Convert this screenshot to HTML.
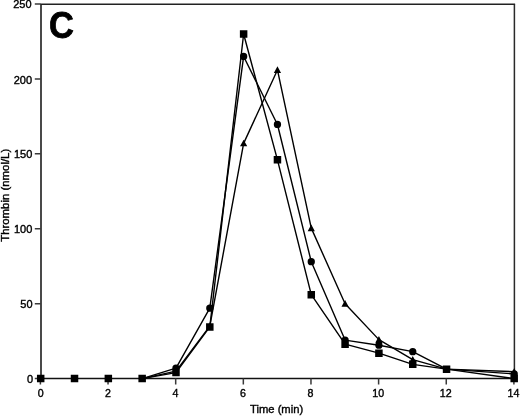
<!DOCTYPE html>
<html><head><meta charset="utf-8"><title>Thrombin generation chart</title><style>
html,body{margin:0;padding:0;background:#fff;width:520px;height:416px;overflow:hidden}
svg{display:block;filter:grayscale(1)}
.tx{fill:#000;stroke:#000;stroke-width:0.38;font-family:"Liberation Sans",sans-serif;font-size:11.0px}
.a{fill:#000;stroke:#000;stroke-width:0.38;font-family:"Liberation Sans",sans-serif;font-size:11.4px}
.c{fill:#000;stroke:#000;stroke-width:0.8;font-family:"Liberation Sans",sans-serif;font-size:37px;font-weight:bold}
</style></head><body>
<svg width="520" height="416" viewBox="0 0 520 416">
<path d="M41 4.3V378.60" stroke="#2a2a2a" stroke-width="1.7" fill="none"/>
<path d="M514.4 4.3V378.60" stroke="#2a2a2a" stroke-width="1.5" fill="none"/>
<path d="M40.2 4.3H515.1" stroke="#222" stroke-width="1.4" fill="none"/>
<path d="M40.2 378.5H515.1" stroke="#111" stroke-width="1.5" fill="none"/>
<path d="M34.8 378.60H40.70M34.8 303.68H40.70M34.8 228.76H40.70M34.8 153.84H40.70M34.8 78.92H40.70M34.8 4.00H40.70M40.40 378.60V384.5M108.04 378.60V384.5M175.69 378.60V384.5M243.33 378.60V384.5M310.97 378.60V384.5M378.61 378.60V384.5M446.26 378.60V384.5M513.90 378.60V384.5" stroke="#3a3a3a" stroke-width="1.5" fill="none"/>
<g class="tx"><text transform="translate(33.20,383.20) scale(1,1.06)" text-anchor="end">0</text><text transform="translate(32.60,308.28) scale(1,1.06)" text-anchor="end">50</text><text transform="translate(32.30,233.36) scale(1,1.06)" text-anchor="end">100</text><text transform="translate(32.30,158.44) scale(1,1.06)" text-anchor="end">150</text><text transform="translate(32.00,83.52) scale(1,1.06)" text-anchor="end">200</text><text transform="translate(31.60,8.10) scale(1,1.06)" text-anchor="end">250</text><text transform="translate(40.70,397.10) scale(0.97,1.03)" text-anchor="middle">0</text><text transform="translate(108.04,397.10) scale(0.97,1.03)" text-anchor="middle">2</text><text transform="translate(175.59,397.10) scale(0.97,1.03)" text-anchor="middle">4</text><text transform="translate(242.93,397.10) scale(0.97,1.03)" text-anchor="middle">6</text><text transform="translate(310.47,397.10) scale(0.97,1.03)" text-anchor="middle">8</text><text transform="translate(378.31,397.10) scale(0.97,1.03)" text-anchor="middle">10</text><text transform="translate(445.76,397.10) scale(0.97,1.03)" text-anchor="middle">12</text><text transform="translate(513.40,397.10) scale(0.97,1.03)" text-anchor="middle">14</text></g>
<polyline points="142.16,378.60 175.99,371.11 209.81,326.16 243.63,143.35 277.45,69.93 311.27,228.16 345.09,303.68 378.91,339.64 412.74,359.57 446.56,369.16 514.20,371.71" fill="none" stroke="#000" stroke-width="1.4" stroke-linejoin="round"/>
<polyline points="142.16,378.60 175.99,368.11 209.81,308.18 243.63,56.44 277.45,124.47 311.27,261.72 345.09,340.09 378.91,345.19 412.74,351.63 446.56,369.16 514.20,373.95" fill="none" stroke="#000" stroke-width="1.4" stroke-linejoin="round"/>
<polyline points="142.16,378.60 175.99,372.61 209.81,326.91 243.63,33.97 277.45,159.83 311.27,294.69 345.09,344.14 378.91,353.13 412.74,364.37 446.56,369.16 514.20,378.60" fill="none" stroke="#000" stroke-width="1.4" stroke-linejoin="round"/>
<path d="M40.70,375.00L44.30,381.60L37.10,381.60ZM74.52,375.00L78.12,381.60L70.92,381.60ZM108.34,375.00L111.94,381.60L104.74,381.60ZM142.16,375.00L145.76,381.60L138.56,381.60ZM175.99,367.51L179.59,374.11L172.39,374.11ZM209.81,322.56L213.41,329.16L206.21,329.16ZM243.63,139.75L247.23,146.35L240.03,146.35ZM277.45,66.33L281.05,72.93L273.85,72.93ZM311.27,224.56L314.87,231.16L307.67,231.16ZM345.09,300.08L348.69,306.68L341.49,306.68ZM378.91,336.04L382.51,342.64L375.31,342.64ZM412.74,355.97L416.34,362.57L409.14,362.57ZM446.56,365.56L450.16,372.16L442.96,372.16ZM514.20,368.11L517.80,374.71L510.60,374.71ZM37.05,378.60a3.65,3.65 0 1,1 7.3,0a3.65,3.65 0 1,1 -7.3,0ZM70.87,378.60a3.65,3.65 0 1,1 7.3,0a3.65,3.65 0 1,1 -7.3,0ZM104.69,378.60a3.65,3.65 0 1,1 7.3,0a3.65,3.65 0 1,1 -7.3,0ZM138.51,378.60a3.65,3.65 0 1,1 7.3,0a3.65,3.65 0 1,1 -7.3,0ZM172.34,368.11a3.65,3.65 0 1,1 7.3,0a3.65,3.65 0 1,1 -7.3,0ZM206.16,308.18a3.65,3.65 0 1,1 7.3,0a3.65,3.65 0 1,1 -7.3,0ZM239.98,56.44a3.65,3.65 0 1,1 7.3,0a3.65,3.65 0 1,1 -7.3,0ZM273.80,124.47a3.65,3.65 0 1,1 7.3,0a3.65,3.65 0 1,1 -7.3,0ZM307.62,261.72a3.65,3.65 0 1,1 7.3,0a3.65,3.65 0 1,1 -7.3,0ZM341.44,340.09a3.65,3.65 0 1,1 7.3,0a3.65,3.65 0 1,1 -7.3,0ZM375.26,345.19a3.65,3.65 0 1,1 7.3,0a3.65,3.65 0 1,1 -7.3,0ZM409.09,351.63a3.65,3.65 0 1,1 7.3,0a3.65,3.65 0 1,1 -7.3,0ZM442.91,369.16a3.65,3.65 0 1,1 7.3,0a3.65,3.65 0 1,1 -7.3,0ZM510.55,373.95a3.65,3.65 0 1,1 7.3,0a3.65,3.65 0 1,1 -7.3,0ZM36.95,374.85h7.5v7.5h-7.5ZM70.77,374.85h7.5v7.5h-7.5ZM104.59,374.85h7.5v7.5h-7.5ZM138.41,374.85h7.5v7.5h-7.5ZM172.24,368.86h7.5v7.5h-7.5ZM206.06,323.16h7.5v7.5h-7.5ZM239.88,30.22h7.5v7.5h-7.5ZM273.70,156.08h7.5v7.5h-7.5ZM307.52,290.94h7.5v7.5h-7.5ZM341.34,340.39h7.5v7.5h-7.5ZM375.16,349.38h7.5v7.5h-7.5ZM408.99,360.62h7.5v7.5h-7.5ZM442.81,365.41h7.5v7.5h-7.5ZM510.45,374.85h7.5v7.5h-7.5Z" fill="#000"/>
<text class="c" transform="translate(48.90,38.20) scale(0.93,1.01)">C</text>
<text class="a" transform="translate(276.60,412.80) scale(0.985,1)" text-anchor="middle">Time (min)</text>
<text class="a" transform="translate(9.40,195.30) rotate(-90)" text-anchor="middle">Thrombin (nmol/L)</text>
</svg>
</body></html>
